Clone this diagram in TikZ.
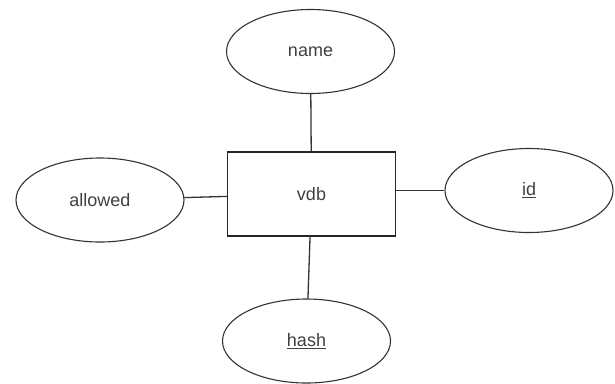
\documentclass[tikz,border=0pt]{standalone}
\usepackage{fontspec}
\setmainfont{Liberation Sans}
\usetikzlibrary{shapes.geometric}
\definecolor{inkline}{HTML}{333333}
\definecolor{inktext}{HTML}{404040}
\tikzset{
  attr/.style={ellipse, draw=inkline, line width=1.1pt, minimum width=168pt, minimum height=84pt, inner sep=0pt,
    font=\fontsize{18}{20}\selectfont, text=inktext},
  entity/.style={rectangle, draw=black!85, line width=1.3pt, minimum width=168pt, minimum height=84pt, inner sep=0pt,
    font=\fontsize{18}{20}\selectfont, text=inktext},
  link/.style={draw=inkline, line width=1.3pt}
}
\begin{document}
\begin{tikzpicture}[x=1pt,y=-1pt]
  \useasboundingbox (0,0) rectangle (615,383);
  \node[entity] (vdb) at (311.5,194) {vdb};
  \node[attr] (name) at (310.5,51.5) {name};
  \node[attr] (allowed) at (100,200) {allowed};
  \node[attr] (id) at (529,190.5) {\underline{id}};
  \node[attr] (hash) at (306.5,341) {\underline{hash}};
  \draw[link] (name) -- (vdb);
  \draw[link] (allowed) -- (vdb);
  \draw[link] (vdb.east |- id.west) -- (id);
  \draw[link] (vdb) -- (hash);
\end{tikzpicture}
\end{document}
